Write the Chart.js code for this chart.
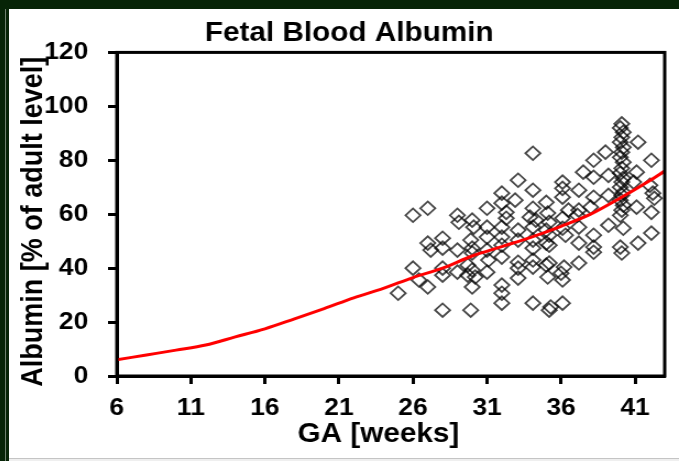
<!DOCTYPE html>
<html>
<head>
<meta charset="utf-8">
<title>Fetal Blood Albumin</title>
<script src="https://cdn.jsdelivr.net/npm/chart.js@4.4.2/dist/chart.umd.min.js"></script>
<style>
  html, body { margin: 0; padding: 0; }
  body { width: 679px; height: 461px; background: #072407; position: relative; overflow: hidden; }
  #edge  { position: absolute; left: 5px; top: 9px; width: 1px; height: 452px; background: #6f806f; }
  #panel { position: absolute; left: 9px; top: 9px; width: 670px; height: 452px;
           background: linear-gradient(to bottom, #fff 449px, #c4c4c4 449px, #c4c4c4 450px, #efefef 450px); }
  #chart { position: absolute; left: 0; top: 0; }
</style>
</head>
<body>
<div id="edge"></div>
<div id="panel">
  <!-- slide art is widened ~10%: draw at 609px and let CSS stretch to 670px -->
  <canvas id="chart" width="609" height="449" style="width:670px;height:449px"></canvas>
</div>

<script>
// ---------- DATA ----------
const weekTicks = [6, 11, 16, 21, 26, 31, 36, 41];

// individual cord-blood samples: gestational age (weeks) / albumin (% of adult)
const gaWeeks = [
  26.0, 27.0, 29.0, 29.1, 30.1, 27.0, 27.2, 28.0, 28.0, 29.0, 29.9, 30.0,
  26.0, 26.4, 27.0, 25.0, 28.0, 28.0, 29.0, 29.7, 29.7, 28.0, 29.9,
  34.1, 33.1, 34.1, 32.0, 31.0, 32.0, 32.9, 35.0, 34.1, 32.3, 32.3, 33.9,
  34.3, 35.1, 31.0, 30.0, 32.0, 33.1, 34.1, 35.0, 31.0, 32.0, 33.1, 34.1,
  31.0, 32.0, 34.1, 35.0, 30.0, 31.1, 32.0, 33.1, 34.1, 35.0, 30.0, 31.0,
  33.1, 34.1, 30.2, 33.1, 35.1, 30.0, 32.0, 32.0, 32.0, 34.1, 35.2,
  38.2, 37.5, 38.2, 36.1, 36.1, 37.2, 36.1, 38.2, 36.5, 37.2, 37.1, 36.1,
  35.2, 38.0, 36.1, 37.2, 35.2, 36.3, 38.2, 37.2, 35.2, 38.2, 38.2, 35.2,
  36.2, 37.2, 36.0, 36.1, 35.3, 36.1,
  40.1, 40.0, 40.2, 40.1, 40.0, 40.2, 40.1, 40.0, 40.2, 40.1, 40.0, 40.2,
  40.1, 40.0, 40.2, 40.1, 40.0, 40.2, 40.1, 40.0, 40.2, 40.0, 40.1,
  41.2, 42.1, 39.0, 39.2, 41.1, 40.9, 42.0, 42.2, 42.3, 39.2, 41.1, 42.1,
  39.2, 42.1, 41.2
];
const albuminPct = [
  59.6, 62.2, 59.6, 57.0, 55.2, 49.3, 46.7, 51.1, 47.4, 46.7, 50.4, 47.4,
  40.0, 35.6, 33.0, 30.7, 40.0, 37.4, 38.5, 41.1, 37.4, 24.4, 24.4,
  82.6, 72.6, 68.9, 67.8, 62.2, 64.1, 65.2, 64.4, 62.2, 60.7, 58.5, 58.9,
  57.8, 60.4, 55.2, 57.8, 55.2, 54.1, 55.2, 54.1, 51.5, 51.5, 50.4, 50.4,
  46.7, 48.5, 47.4, 49.3, 45.6, 43.0, 44.1, 42.2, 43.0, 41.1, 39.3, 38.5,
  40.0, 40.4, 36.7, 36.3, 36.7, 33.0, 33.7, 30.7, 27.0, 27.0, 24.4,
  80.0, 75.6, 73.7, 71.9, 69.6, 68.9, 66.3, 66.3, 61.5, 61.5, 59.6, 58.5,
  57.0, 62.6, 54.8, 55.2, 52.2, 52.2, 52.2, 49.3, 48.5, 47.8, 45.9, 41.9,
  40.4, 41.9, 38.1, 35.6, 25.6, 27.0,
  93.5, 92.0, 90.4, 88.5, 86.7, 84.8, 83.0, 81.1, 79.3, 77.0, 75.2, 73.3,
  71.9, 70.0, 68.1, 67.0, 65.2, 63.3, 61.5, 59.6, 54.8, 47.8, 45.6,
  86.7, 80.0, 83.0, 74.4, 75.6, 71.9, 70.7, 67.8, 65.9, 67.0, 62.6, 60.7,
  55.9, 53.0, 49.3
];

// fitted reference curve
const fitWeeks = [6, 8, 10, 12, 14, 16, 18, 20, 22, 24, 26, 28, 30, 32, 34, 36, 38, 40, 42, 43];
const fitPct   = [6, 7.8, 9.6, 11.5, 14.5, 17.5, 21.2, 25, 29, 32.5, 36.5, 40, 44.5, 48, 51.5, 55.5, 60, 66, 72.5, 76];

// ---------- HELPERS ----------
const FONT = '"Liberation Sans", Arial, sans-serif';
Chart.defaults.font.family = FONT;
Chart.defaults.color = '#000';

const pairs = (xs, ys) => xs.map((x, i) => ({ x, y: ys[i] }));

// closes the box on the top and right of the plot
const frameBox = {
  id: 'frameBox',
  afterDraw(chart) {
    const { ctx, chartArea: a } = chart;
    ctx.save();
    ctx.strokeStyle = '#000';
    ctx.lineWidth = 3;
    ctx.strokeRect(a.left, a.top, a.right - a.left, a.bottom - a.top);
    ctx.restore();
  }
};

const tickFont  = { size: 24, weight: 'bold' };
const titleFont = { size: 27, weight: 'bold' };

// ---------- CHART ----------
// (padding spaces in the titles nudge them off-centre like the slide layout)
new Chart(document.getElementById('chart'), {
  type: 'scatter',
  data: {
    datasets: [
      {
        data: pairs(fitWeeks, fitPct),
        showLine: true,
        order: 0,
        borderColor: '#ff0000',
        borderWidth: 3,
        pointRadius: 0,
        cubicInterpolationMode: 'monotone',
        fill: false
      },
      {
        data: pairs(gaWeeks, albuminPct),
        order: 1,
        pointStyle: 'rectRot',
        pointRadius: 6.8,
        borderWidth: 1.8,
        borderColor: 'rgba(0,0,0,0.72)',
        backgroundColor: 'rgba(0,0,0,0)'
      }
    ]
  },
  options: {
    responsive: false,
    animation: false,
    layout: { padding: { top: 0, right: 13, bottom: 0, left: 0 } },
    plugins: {
      legend: { display: false },
      tooltip: { enabled: false },
      title: {
        display: true,
        text: '   Fetal Blood Albumin',
        color: '#000',
        font: titleFont,
        padding: { top: 8, bottom: 3 }
      }
    },
    scales: {
      x: {
        type: 'linear',
        min: 6,
        max: 43,
        afterBuildTicks: s => { s.ticks = weekTicks.map(v => ({ value: v })); },
        afterFit: s => { s.height = 82; },
        ticks: { font: tickFont, color: '#000', padding: 10, maxRotation: 0, autoSkip: false },
        grid: { drawOnChartArea: false, tickLength: 8, tickWidth: 3, tickColor: '#000' },
        border: { display: true, color: '#000', width: 3 },
        title: { display: true, text: 'GA [weeks]   ', color: '#000', font: titleFont, padding: { top: 0, bottom: 7 } }
      },
      y: {
        min: 0,
        max: 120,
        afterFit: s => { s.width = 98; },
        ticks: { stepSize: 20, font: tickFont, color: '#000', padding: 18 },
        grid: { drawOnChartArea: false, tickLength: 8, tickWidth: 3, tickColor: '#000' },
        border: { display: true, color: '#000', width: 3 },
        title: {
          display: true,
          text: 'Albumin [% of adult level]  ',
          color: '#000',
          font: titleFont,
          padding: { top: 6.5, bottom: 0 }
        }
      }
    }
  },
  plugins: [frameBox]
});
</script>
</body>
</html>
